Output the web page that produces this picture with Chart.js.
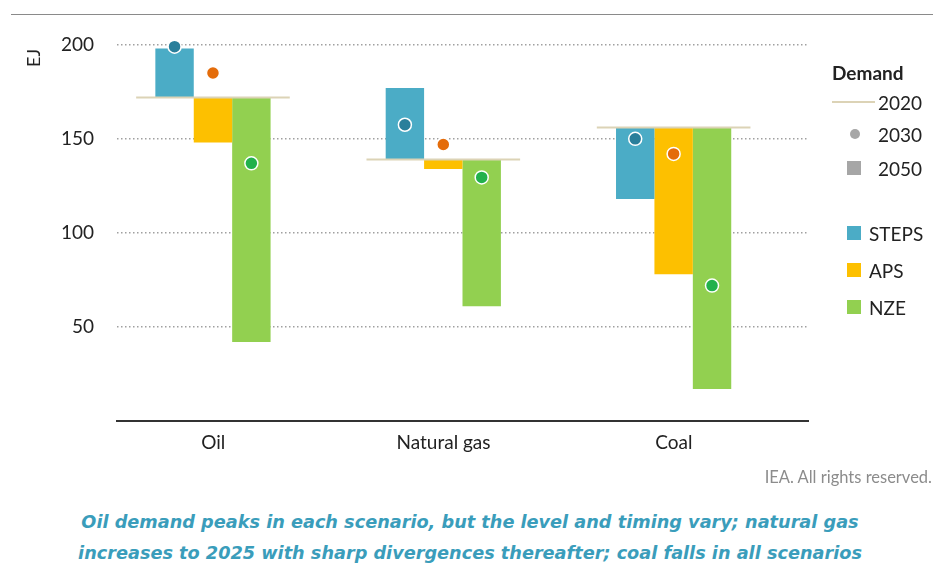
<!DOCTYPE html>
<html>
<head>
<meta charset="utf-8">
<script src="https://cdn.jsdelivr.net/npm/chart.js@4.4.1/dist/chart.umd.min.js"></script>
<style>
    body { margin: 0; background: #fff; font-family: Lato, sans-serif; }
    #wrap { position: relative; width: 933px; height: 563px; overflow: hidden; }
    #chart { position: absolute; left: 0; top: 0; }
    .rule { position: absolute; left: 11px; right: 0; top: 14px; border-top: 1.5px solid #8a8a8a; }
    .ytitle { position: absolute; left: 24px; top: 47px; font-size: 18px; color: #222; transform: rotate(-90deg); transform-origin: center; }
    .lg { position: absolute; font-size: 19px; color: #222; line-height: 1; transform: translateY(-50%); }
    .lg-title { font-weight: bold; }
    .sw { position: absolute; transform: translateY(-50%); }
    .credit { position: absolute; right: 1px; top: 467px; font-size: 16.5px; color: #8c8c8c; }
    .caption { position: absolute; left: 0; width: 940px; top: 507px; text-align: center;
               font-family: 'DejaVu Sans', sans-serif; font-size: 17.7px; line-height: 31px;
               font-weight: bold; font-style: italic; color: #3a9dbb; }
</style>
</head>
<body>
<div id="wrap">
    <div class="rule"></div>
    <canvas id="chart" width="933" height="470"></canvas>
    <div class="ytitle">EJ</div>

    <!-- legend -->
    <div class="lg lg-title" style="left:832px; top:72px;">Demand</div>
    <div class="sw" style="left:832px; top:102px; width:43px; height:2px; background:#dcd3b6;"></div>
    <div class="lg" style="left:878px; top:102px;">2020</div>
    <div class="sw" style="left:850px; top:134px; width:10px; height:10px; border-radius:50%; background:#a6a6a6;"></div>
    <div class="lg" style="left:878px; top:134px;">2030</div>
    <div class="sw" style="left:847px; top:168px; width:14px; height:14px; background:#a6a6a6;"></div>
    <div class="lg" style="left:878px; top:168px;">2050</div>
    <div class="sw" style="left:847px; top:233px; width:14px; height:14px; background:#4bacc6;"></div>
    <div class="lg" style="left:869px; top:233px;">STEPS</div>
    <div class="sw" style="left:847px; top:270px; width:14px; height:14px; background:#fdc000;"></div>
    <div class="lg" style="left:869px; top:270px;">APS</div>
    <div class="sw" style="left:847px; top:307px; width:14px; height:14px; background:#92d050;"></div>
    <div class="lg" style="left:869px; top:307px;">NZE</div>

    <div class="credit">IEA. All rights reserved.</div>
    <div class="caption">Oil demand peaks in each scenario, but the level and timing vary; natural gas<br>increases to 2025 with sharp divergences thereafter; coal falls in all scenarios</div>
</div>

<script>
// Data (EJ)
const categories = ['Oil', 'Natural gas', 'Coal'];
const scenarios = ['STEPS', 'APS', 'NZE'];
const demand2020 = [172, 139, 156];
const steps2030 = [199, 157.5, 150];
const aps2030 = [185, 147, 142];
const nze2030 = [137, 129.5, 72];
const steps2050 = [198, 177, 118];
const aps2050 = [148, 134, 78];
const nze2050 = [42, 61, 17];
const yTicks = [50, 100, 150, 200];

const barColors = ['#4bacc6', '#fdc000', '#92d050'];
const dotColors = ['#2a7f9b', '#e46c0a', '#22b14c'];
const values2030 = [steps2030, aps2030, nze2030];
const values2050 = [steps2050, aps2050, nze2050];

// 2020 reference line + 2030 dots drawn on top of the bars
const demandMarkers = {
    id: 'demandMarkers',
    afterDatasetsDraw(chart) {
        const ctx = chart.ctx;
        const y = chart.scales.y;
        const first = chart.getDatasetMeta(0);
        const last = chart.getDatasetMeta(2);

        // 2020 level
        ctx.save();
        ctx.strokeStyle = '#dcd3b6';
        ctx.lineWidth = 2;
        categories.forEach((c, j) => {
            const a = first.data[j], b = last.data[j];
            const x0 = a.x - a.width;
            const x1 = b.x + b.width;
            const py = y.getPixelForValue(demand2020[j]);
            ctx.beginPath();
            ctx.moveTo(x0, py);
            ctx.lineTo(x1, py);
            ctx.stroke();
        });

        // 2030 dots
        scenarios.forEach((s, i) => {
            const meta = chart.getDatasetMeta(i);
            values2030[i].forEach((v, j) => {
                const el = meta.data[j];
                ctx.beginPath();
                ctx.arc(el.x, y.getPixelForValue(v), 6.5, 0, Math.PI * 2);
                ctx.fillStyle = dotColors[i];
                ctx.fill();
                ctx.lineWidth = 1.5;
                ctx.strokeStyle = '#ffffff';
                ctx.stroke();
            });
        });
        ctx.restore();
    }
};

const datasets = scenarios.map((s, i) => ({
    label: s,
    data: categories.map((c, j) => [demand2020[j], values2050[i][j]]),
    backgroundColor: barColors[i],
    borderWidth: 0
}));
// empty slot so bars sit left of the category centre, as in the original
datasets.push({ label: '', data: categories.map(() => null), backgroundColor: 'rgba(0,0,0,0)' });

new Chart(document.getElementById('chart'), {
    type: 'bar',
    data: { labels: categories, datasets: datasets },
    options: {
        responsive: false,
        animation: false,
        devicePixelRatio: 1,
        layout: { padding: { left: 0, right: 125, top: 26, bottom: 0 } },
        datasets: { bar: { barPercentage: 1, categoryPercentage: 0.667 } },
        plugins: { legend: { display: false }, tooltip: { enabled: false } },
        scales: {
            x: {
                offset: true,
                grid: { display: false, drawTicks: false },
                border: { display: true, color: '#333', width: 2 },
                ticks: { color: '#222', font: { family: 'Lato', size: 19 }, padding: 10, labelOffset: -19 },
                afterFit: scale => { scale.height = 49; scale.paddingLeft = 0; scale.paddingRight = 0; }
            },
            y: {
                min: 0,
                max: 210,
                grid: { color: '#a0a0a0', lineWidth: 1.5, drawTicks: false },
                border: { display: false, dash: [1.5, 2.5] },
                ticks: { color: '#222', font: { family: 'Lato', size: 19 }, padding: 23 },
                afterBuildTicks: scale => { scale.ticks = yTicks.map(v => ({ value: v })); },
                afterFit: scale => { scale.width = 117; scale.paddingTop = 0; scale.paddingBottom = 0; }
            }
        }
    },
    plugins: [demandMarkers]
});
</script>
</body>
</html>
